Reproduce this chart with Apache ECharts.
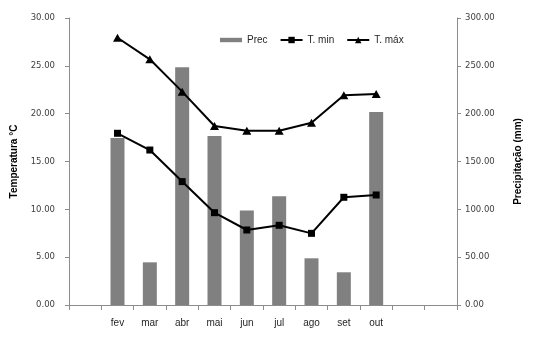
<!DOCTYPE html>
<html>
<head>
<meta charset="utf-8">
<script src="https://cdn.jsdelivr.net/npm/echarts@6/dist/echarts.min.js"></script>
<style>
  html, body { margin: 0; padding: 0; background: #fff; }
  #chart { width: 534px; height: 339px; }
</style>
</head>
<body>
<div id="chart"></div>
<script>
// Monthly climate: precipitation (bars, right axis) and min/max temperature (lines, left axis)
const months = ['jan', 'fev', 'mar', 'abr', 'mai', 'jun', 'jul', 'ago', 'set', 'out', 'nov', 'dez'];
const labeledMonths = ['fev', 'mar', 'abr', 'mai', 'jun', 'jul', 'ago', 'set', 'out'];
const prec = [null, 174.5, 44.6, 248.4, 176.6, 98.8, 113.6, 48.8, 34.2, 201.7, null, null];
const tMin = [null, 17.95, 16.2, 12.9, 9.65, 7.84, 8.33, 7.49, 11.26, 11.5, null, null];
const tMax = [null, 27.94, 25.68, 22.3, 18.71, 18.22, 18.22, 19.06, 21.92, 22.05, null, null];

const axisGray = '#8c8c8c';
const tickFont = { fontFamily: 'DejaVu Sans', fontSize: 8.5, color: '#404040' };

const chart = echarts.init(document.getElementById('chart'), null, { renderer: 'canvas' });
chart.setOption({
  animation: false,
  backgroundColor: '#ffffff',
  grid: { left: 69, right: 77, top: 18, bottom: 34 },
  legend: {
    left: 215,
    top: 30,
    itemWidth: 22,
    itemHeight: 8,
    itemGap: 12,
    textStyle: { fontFamily: 'Liberation Sans', fontSize: 10, color: '#262626' },
    data: [
      { name: 'Prec', icon: 'path://M0,0h25v5h-25z' },
      { name: 'T. min' },
      { name: 'T. máx' }
    ]
  },
  xAxis: {
    type: 'category',
    data: months,
    boundaryGap: true,
    axisLine: { lineStyle: { color: axisGray, width: 1 } },
    axisTick: { show: true, length: 5, alignWithLabel: false, lineStyle: { color: axisGray } },
    axisLabel: {
      margin: 13,
      interval: 0,
      fontFamily: 'Liberation Sans',
      fontSize: 10,
      color: '#262626',
      formatter: v => (labeledMonths.includes(v) ? v : '')
    },
    splitLine: { show: false }
  },
  yAxis: [
    {
      type: 'value',
      min: 0,
      max: 30,
      interval: 5,
      position: 'left',
      name: 'Temperatura °C',
      nameLocation: 'middle',
      nameRotate: 90,
      nameGap: 50,
      nameTextStyle: { fontFamily: 'Liberation Sans', fontSize: 10, fontWeight: 'bold', color: '#000' },
      axisLine: { show: true, lineStyle: { color: axisGray } },
      axisTick: { show: true, length: 4, lineStyle: { color: axisGray } },
      axisLabel: Object.assign({ margin: 14, formatter: v => v.toFixed(2) }, tickFont),
      splitLine: { show: false }
    },
    {
      type: 'value',
      min: 0,
      max: 300,
      interval: 50,
      position: 'right',
      name: 'Precipitação (mm)',
      nameLocation: 'middle',
      nameRotate: 90,
      nameGap: 56,
      nameTextStyle: { fontFamily: 'Liberation Sans', fontSize: 10, fontWeight: 'bold', color: '#000' },
      axisLine: { show: true, lineStyle: { color: axisGray } },
      axisTick: { show: true, length: 4, lineStyle: { color: axisGray } },
      axisLabel: Object.assign({ margin: 8, formatter: v => v.toFixed(2) }, tickFont),
      splitLine: { show: false }
    }
  ],
  series: [
    {
      name: 'Prec',
      type: 'bar',
      yAxisIndex: 1,
      data: prec,
      barWidth: 14,
      itemStyle: { color: '#808080' },
      z: 1
    },
    {
      name: 'T. min',
      type: 'line',
      yAxisIndex: 0,
      data: tMin,
      symbol: 'rect',
      symbolSize: 7,
      lineStyle: { color: '#000', width: 2 },
      itemStyle: { color: '#000' },
      z: 3
    },
    {
      name: 'T. máx',
      type: 'line',
      yAxisIndex: 0,
      data: tMax,
      symbol: 'triangle',
      symbolSize: [9, 8],
      lineStyle: { color: '#000', width: 2 },
      itemStyle: { color: '#000' },
      z: 3
    }
  ]
});
</script>
</body>
</html>
